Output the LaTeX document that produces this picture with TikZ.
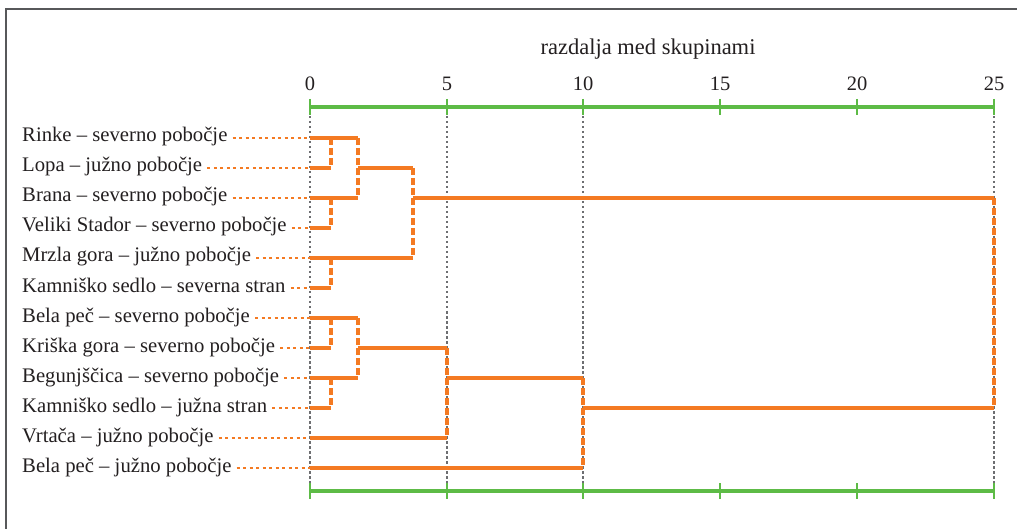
\documentclass[tikz,border=0pt]{standalone}
\usepackage{fontspec}
\setmainfont{Liberation Serif}
\definecolor{orng}{HTML}{F47A22}
\definecolor{grn}{HTML}{5DBB46}
\definecolor{txt}{HTML}{231F20}
\definecolor{gry}{HTML}{6D6E71}
\tikzset{
  lab/.style={anchor=west,inner sep=2pt,inner xsep=0pt,text=txt,font=\fontsize{20.7}{22}\selectfont,text height=9pt,text depth=3pt},
  ticklab/.style={text=txt,font=\fontsize{20.5}{22}\selectfont,inner sep=0pt},
  titlelab/.style={text=txt,font=\fontsize{22.5}{24}\selectfont,inner sep=0pt},
  leader/.style={draw=orng,line width=1.4pt,dash pattern=on 3pt off 3.5pt,shorten <=5pt},
  br/.style={draw=orng,line width=3.3pt},
  brdash/.style={draw=orng,line width=3.5pt,dash pattern=on 7pt off 3pt},
  axisline/.style={draw=grn,line width=3.2pt},
  grid/.style={draw=gry,line width=1.3pt,dash pattern=on 2.5pt off 2.5pt},
  frame/.style={draw=gry!80!black,line width=1.5pt}
}
\begin{document}
\begin{tikzpicture}[x=1pt,y=-1pt]
\useasboundingbox (0,0) rectangle (1017,529);
\draw[frame] (6,529) -- (6,9) -- (1017,9);
\node[titlelab] (title) at (648,49) {razdalja med skupinami};
% grid
\foreach \v/\px in {0/310,5/447,10/583,25/994}{
  \coordinate (gt\v) at (\px,116);
  \coordinate (gb\v) at (\px,483);
  \draw[grid] (gt\v) -- (gb\v);
}
% axes
\coordinate (at0) at (310,107);
\coordinate (at25) at (994,107);
\coordinate (ab0) at (310,491);
\coordinate (ab25) at (994,491);
\draw[axisline] (at0) -- (at25);
\draw[axisline] (ab0) -- (ab25);
\foreach \v/\px in {0/310,5/447,10/583,15/720,20/857,25/994}{
  \coordinate (tt\v) at (\px,99);
  \coordinate (tb\v) at (\px,115);
  \coordinate (bt\v) at (\px,483);
  \coordinate (bb\v) at (\px,499);
  \draw[axisline,line width=2.6pt] (tt\v) -- (tb\v);
  \draw[axisline,line width=2.6pt] (bt\v) -- (bb\v);
  \node[ticklab] (tl\v) at (\px,84) {\v};
}
% leaves
\foreach \i/\t in {1/Rinke – severno pobočje,2/Lopa – južno pobočje,3/Brana – severno pobočje,4/Veliki Stador – severno pobočje,5/Mrzla gora – južno pobočje,6/Kamniško sedlo – severna stran,7/Bela peč – severno pobočje,8/Kriška gora – severno pobočje,9/Begunjščica – severno pobočje,10/Kamniško sedlo – južna stran,11/Vrtača – južno pobočje,12/Bela peč – južno pobočje}{
  \node[lab] (l\i) at (22,{109+30*\i}) {\t};
  \coordinate (L\i) at (310,{108+30*\i});
  \draw[leader] (l\i.east |- L\i) -- (L\i);
}
% merge coordinates
\coordinate (a1) at (331,138); \coordinate (a2) at (331,168);
\coordinate (b1) at (331,198); \coordinate (b2) at (331,228);
\coordinate (c1) at (358,138); \coordinate (c2) at (358,198); \coordinate (c3) at (358,168);
\coordinate (d1) at (413,168); \coordinate (d2) at (413,258); \coordinate (d3) at (413,198);
\coordinate (e1) at (331,258); \coordinate (e2) at (331,288);
\coordinate (f1) at (331,318); \coordinate (f2) at (331,348);
\coordinate (g1) at (331,378); \coordinate (g2) at (331,408);
\coordinate (h1) at (358,318); \coordinate (h2) at (358,378); \coordinate (h3) at (358,348);
\coordinate (i1) at (447,348); \coordinate (i2) at (447,438); \coordinate (i3) at (447,378);
\coordinate (j1) at (583,378); \coordinate (j2) at (583,468); \coordinate (j3) at (583,408);
\coordinate (k1) at (994,198); \coordinate (k2) at (994,408);
% solid branches
\draw[br] (L1) -- (c1);
\draw[br] (L2) -- (a2);
\draw[br] (L3) -- (c2);
\draw[br] (L4) -- (b2);
\draw[br] (c3) -- (d1);
\draw[br] (L5) -- (d2);
\draw[br] (L6) -- (e2);
\draw[br] (d3) -- (k1);
\draw[br] (L7) -- (h1);
\draw[br] (L8) -- (f2);
\draw[br] (L9) -- (h2);
\draw[br] (L10) -- (g2);
\draw[br] (h3) -- (i1);
\draw[br] (L11) -- (i2);
\draw[br] (i3) -- (j1);
\draw[br] (L12) -- (j2);
\draw[br] (j3) -- (k2);
% dashed joins
\draw[brdash] (a1) -- (a2);
\draw[brdash] (b1) -- (b2);
\draw[brdash] (c1) -- (c2);
\draw[brdash] (d1) -- (d2);
\draw[brdash] (e1) -- (e2);
\draw[brdash] (f1) -- (f2);
\draw[brdash] (g1) -- (g2);
\draw[brdash] (h1) -- (h2);
\draw[brdash] (i1) -- (i2);
\draw[brdash] (j1) -- (j2);
\draw[brdash] (k1) -- (k2);
\end{tikzpicture}
\end{document}
